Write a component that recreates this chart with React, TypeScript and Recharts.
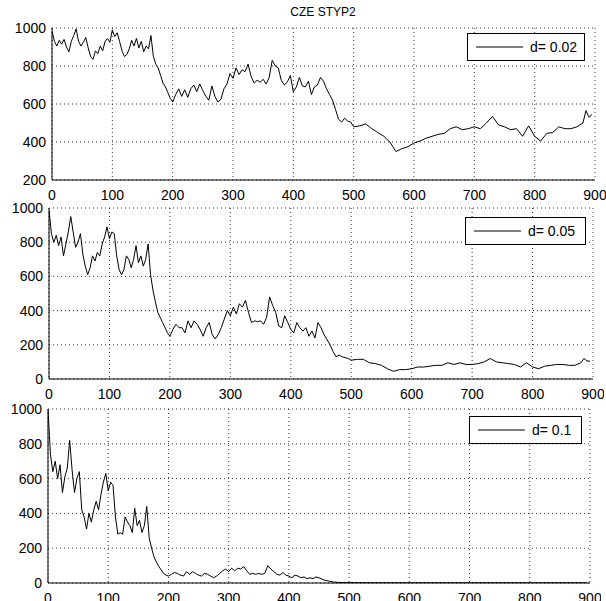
import React from 'react';
import { LineChart, Line, XAxis, YAxis, CartesianGrid } from 'recharts';

const FONT = '"Liberation Sans", Arial, Helvetica, sans-serif';

const titleText = 'CZE STYP2';
const legendLabels = ['d= 0.02', 'd= 0.05', 'd= 0.1'];
const xTicks = [0, 100, 200, 300, 400, 500, 600, 700, 800, 900];
const yTicksTop = [200, 400, 600, 800, 1000];
const yTicksLower = [0, 200, 400, 600, 800, 1000];

const xValues = [
  0, 4, 8, 12, 16, 20, 24, 28, 32, 36,
  40, 44, 48, 52, 56, 60, 64, 68, 72, 76,
  80, 84, 88, 92, 96, 100, 104, 108, 112, 116,
  120, 124, 128, 132, 136, 140, 144, 148, 152, 156,
  160, 164, 168, 172, 176, 180, 184, 188, 192, 196,
  200, 205, 210, 215, 220, 225, 230, 235, 240, 245,
  250, 255, 260, 265, 270, 275, 280, 285, 290, 295,
  300, 305, 310, 315, 320, 325, 330, 335, 340, 345,
  350, 355, 360, 365, 370, 375, 380, 385, 390, 395,
  400, 405, 410, 415, 420, 425, 430, 435, 440, 445,
  450, 455, 460, 465, 470, 475, 480, 485, 490, 495,
  500, 510, 520, 530, 540, 550, 560, 570, 580, 590,
  600, 610, 620, 630, 640, 650, 660, 670, 680, 690,
  700, 710, 720, 730, 740, 750, 760, 770, 780, 790,
  800, 810, 820, 830, 840, 850, 860, 870, 880, 885,
  890, 895,
];

const seriesD002 = [
  985, 930, 905, 935, 915, 940, 900, 875, 930, 960,
  995, 930, 905, 925, 950, 895, 850, 835, 880, 865,
  905, 880, 930, 945, 925, 990, 955, 975, 930, 880,
  850, 860, 890, 935, 905, 945, 895, 930, 875, 905,
  890, 960, 850, 810, 790, 750, 710, 690, 660, 630,
  610, 650, 680, 640, 675, 635, 680, 700, 665, 705,
  670, 640, 620, 695, 640, 610, 625, 680, 705, 760,
  735, 790, 755, 780, 770, 810, 745, 710, 725, 715,
  730, 705, 740, 830, 800, 790, 725, 700, 715, 750,
  665, 690, 740, 695, 690, 720, 650, 690, 700, 740,
  720, 680, 650, 620, 570, 520, 505, 525, 510, 505,
  480, 485, 495, 470, 450, 430, 400, 350, 365, 375,
  395, 405, 420, 430, 440, 445, 470, 480, 465, 470,
  480, 470, 500, 535, 490, 480, 465, 470, 430, 485,
  430, 405, 445, 450, 480, 470, 470, 480, 500, 565,
  530, 545,
];

const seriesD005 = [
  990, 850, 800, 840, 780, 830, 720, 790, 860, 950,
  860, 770, 800, 850, 730, 660, 610, 650, 720, 690,
  740, 720, 790, 830, 890, 820, 860, 850, 720, 640,
  610, 640, 720, 700, 650, 700, 780, 680, 720, 660,
  700, 790, 610, 520, 450, 390, 360, 330, 300, 270,
  250, 290, 320, 300, 300, 270, 340, 300, 340, 320,
  290, 250, 300, 330, 260, 235, 260, 300, 350, 400,
  370, 420, 380, 440, 420, 460, 390, 330, 340, 335,
  340, 320, 360, 480, 430, 390, 310, 300, 370, 330,
  290, 270, 330, 300, 280, 300, 250, 280, 240, 330,
  300, 260, 230, 200, 160, 130, 140, 130, 125, 120,
  110, 115, 115, 95, 90, 80, 60, 45, 55, 55,
  60, 70, 70, 75, 80, 80, 95, 85, 95, 85,
  85, 90, 100, 120, 100, 95, 90, 85, 70, 95,
  70, 60, 75, 80, 85, 85, 80, 80, 95, 120,
  105, 105,
];

const seriesD010 = [
  1000, 740, 640, 700, 600, 680, 520, 610, 660, 820,
  650, 520, 600, 640, 420, 380, 310, 400, 350, 420,
  470, 420, 510, 580, 630, 530, 580, 560, 380, 280,
  290, 280, 380, 350, 330, 290, 430, 330, 360, 290,
  330, 440, 260, 200, 150, 120, 95, 75, 55, 45,
  40, 50, 60, 55, 45, 40, 65, 50, 65, 55,
  45, 40, 55, 50, 40, 30, 40, 55, 70, 80,
  65, 85, 70, 85, 80, 95, 70, 50, 55, 50,
  55, 50, 55, 100, 80, 65, 50, 45, 60, 45,
  40, 30, 45, 40, 30, 35, 25, 30, 25, 35,
  30, 22, 15, 12, 8, 5, 4, 3, 3, 2,
  2, 1.8, 1.6, 1.5, 1.4, 1.3, 1.2, 1.1, 1, 1,
  1, 1, 1, 1, 1, 1, 1, 1, 1, 1,
  1, 1, 1.2, 1.3, 1.1, 1, 1, 1, 0.8, 1,
  0.8, 0.7, 0.8, 0.8, 0.9, 0.9, 0.8, 0.8, 0.9, 1.1,
  1, 1,
];

type Box = { left: number; top: number; width: number; height: number };

type PanelProps = {
  plot: Box;
  values: number[];
  yMin: number;
  yTicks: number[];
};

const ML = 50;
const MR = 11;
const MT = 12;
const MB = 26;

const tickStyle = { fill: '#000', fontSize: 14, fontFamily: FONT };

function Panel({ plot, values, yMin, yTicks }: PanelProps) {
  const data = xValues.map((x, i) => ({ x, y: values[i] }));
  return (
    <div style={{ position: 'absolute', left: plot.left - ML, top: plot.top - MT }}>
      <LineChart
        width={ML + plot.width + MR}
        height={MT + plot.height + MB}
        data={data}
        margin={{ top: MT, right: MR, bottom: 0, left: 0 }}
        style={{ overflow: 'visible' }}
      >
        <CartesianGrid stroke="#000" strokeDasharray="1 3" strokeWidth={0.8} />
        <XAxis
          dataKey="x"
          type="number"
          domain={[0, 900]}
          ticks={xTicks}
          interval={0}
          height={MB}
          allowDataOverflow
          tickLine={false}
          tickSize={0}
          tickMargin={10}
          axisLine={{ stroke: '#000' }}
          tick={tickStyle}
        />
        <XAxis
          xAxisId="bottomIn"
          type="number"
          domain={[0, 900]}
          ticks={xTicks}
          interval={0}
          orientation="bottom"
          mirror
          height={0}
          allowDataOverflow
          tick={false}
          tickSize={4}
          axisLine={false}
          tickLine={{ stroke: '#000' }}
        />
        <XAxis
          xAxisId="topIn"
          type="number"
          domain={[0, 900]}
          ticks={xTicks}
          interval={0}
          orientation="top"
          mirror
          height={0}
          allowDataOverflow
          tick={false}
          tickSize={4}
          axisLine={{ stroke: '#000' }}
          tickLine={{ stroke: '#000' }}
        />
        <YAxis
          type="number"
          domain={[yMin, 1000]}
          ticks={yTicks}
          interval={0}
          width={ML}
          allowDataOverflow
          tickLine={false}
          tickSize={0}
          tickMargin={6}
          axisLine={{ stroke: '#000' }}
          tick={tickStyle}
        />
        <YAxis
          yAxisId="leftIn"
          type="number"
          domain={[yMin, 1000]}
          ticks={yTicks}
          interval={0}
          orientation="left"
          mirror
          width={0}
          allowDataOverflow
          tick={false}
          tickSize={4}
          axisLine={false}
          tickLine={{ stroke: '#000' }}
        />
        <YAxis
          yAxisId="rightIn"
          type="number"
          domain={[yMin, 1000]}
          ticks={yTicks}
          interval={0}
          orientation="right"
          mirror
          width={0}
          allowDataOverflow
          tick={false}
          tickSize={4}
          axisLine={{ stroke: '#000' }}
          tickLine={{ stroke: '#000' }}
        />
        <Line
          type="linear"
          dataKey="y"
          stroke="#000"
          strokeWidth={1}
          dot={false}
          activeDot={false}
          isAnimationActive={false}
        />
      </LineChart>
    </div>
  );
}

function LegendBox({ box, label }: { box: Box; label: string }) {
  return (
    <div
      style={{
        position: 'absolute',
        left: box.left,
        top: box.top,
        width: box.width,
        height: box.height,
        boxSizing: 'border-box',
        border: '1px solid #000',
        background: '#fff',
        display: 'flex',
        alignItems: 'center',
        fontFamily: FONT,
        fontSize: 14,
        color: '#000',
      }}
    >
      <svg width={56} height={10} style={{ flex: 'none' }}>
        <line x1={8} y1={5} x2={55} y2={5} stroke="#000" strokeWidth={1} />
      </svg>
      <span style={{ marginLeft: 6, whiteSpace: 'nowrap' }}>{label}</span>
    </div>
  );
}

export default function App() {
  return (
    <div
      style={{
        position: 'absolute',
        left: 0,
        top: 0,
        width: 606,
        height: 601,
        overflow: 'hidden',
        background: '#fff',
      }}
    >
      <div
        style={{
          position: 'absolute',
          left: 0,
          width: 646,
          top: 5,
          textAlign: 'center',
          fontFamily: FONT,
          fontSize: 12,
          color: '#000',
        }}
      >
        {titleText}
      </div>
      <Panel plot={{ left: 52, top: 28, width: 543, height: 152 }} values={seriesD002} yMin={200} yTicks={yTicksTop} />
      <Panel plot={{ left: 49, top: 208, width: 544, height: 171 }} values={seriesD005} yMin={0} yTicks={yTicksLower} />
      <Panel plot={{ left: 48, top: 409, width: 542, height: 174 }} values={seriesD010} yMin={0} yTicks={yTicksLower} />
      <LegendBox box={{ left: 467, top: 33, width: 118, height: 28 }} label={legendLabels[0]} />
      <LegendBox box={{ left: 465, top: 217, width: 121, height: 28 }} label={legendLabels[1]} />
      <LegendBox box={{ left: 469, top: 416, width: 113, height: 28 }} label={legendLabels[2]} />
    </div>
  );
}
